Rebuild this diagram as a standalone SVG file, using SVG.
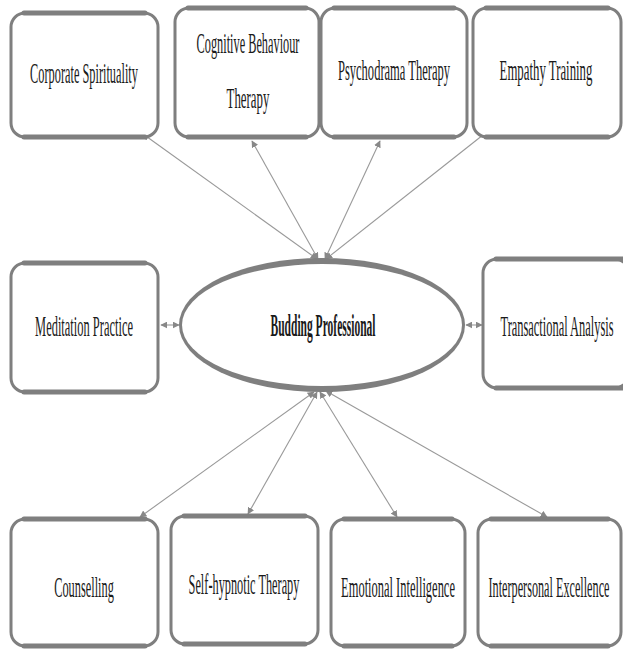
<svg xmlns="http://www.w3.org/2000/svg" width="623" height="649" viewBox="0 0 623 649">
  <style>
    .box { fill: #ffffff; stroke: #7f7f7f; stroke-width: 3; }
    .edge { stroke: #7f7f7f; stroke-width: 5; stroke-linecap: round; }
    .lbl { font-family: "Liberation Serif", "DejaVu Serif", serif; font-size: 30px; fill: #1a1a1a; text-anchor: middle; }
    .hub { font-weight: bold; font-size: 31px; }
    .conn { stroke: #999999; stroke-width: 1.1; fill: none; marker-start: url(#ah); marker-end: url(#ah); }
  </style>
  <defs>
    <marker id="ah" viewBox="0 0 10 10" refX="9" refY="5" markerWidth="7" markerHeight="7" markerUnits="userSpaceOnUse" orient="auto-start-reverse">
      <path d="M0,0 L10,5 L0,10 z" fill="#888888"/>
    </marker>
  </defs>
  <rect width="623" height="649" fill="#ffffff"/>

  <!-- connectors -->
  <g id="connectors">
    <line class="conn" x1="317" y1="259" x2="143" y2="134"/>
    <line class="conn" x1="318" y1="259" x2="252" y2="141"/>
    <line class="conn" x1="325" y1="259" x2="380" y2="141"/>
    <line class="conn" x1="326" y1="259" x2="488" y2="131"/>
    <line class="conn" x1="179" y1="325" x2="161" y2="325"/>
    <line class="conn" x1="466" y1="325" x2="482" y2="325"/>
    <line class="conn" x1="314" y1="392" x2="140" y2="517"/>
    <line class="conn" x1="317" y1="392" x2="248" y2="514"/>
    <line class="conn" x1="320" y1="392" x2="397" y2="517"/>
    <line class="conn" x1="326" y1="391" x2="547" y2="517"/>
  </g>

  <!-- top row -->
  <g id="corporate-spirituality">
    <rect class="box" x="11" y="13" width="147" height="124" rx="14"/>
    <line class="edge" x1="24" y1="13" x2="145" y2="13"/>
    <line class="edge" x1="24" y1="137" x2="145" y2="137"/>
    <text class="lbl" transform="translate(84,83) scale(0.42,1)" textLength="257" lengthAdjust="spacingAndGlyphs">Corporate Spirituality</text>
  </g>
  <g id="cognitive-behaviour-therapy">
    <rect class="box" x="175" y="8" width="144" height="129" rx="14"/>
    <line class="edge" x1="188" y1="8" x2="306" y2="8"/>
    <line class="edge" x1="188" y1="137" x2="306" y2="137"/>
    <text class="lbl" transform="translate(248,53) scale(0.42,1)" textLength="245" lengthAdjust="spacingAndGlyphs">Cognitive Behaviour</text>
    <text class="lbl" transform="translate(248,108) scale(0.42,1)" textLength="102" lengthAdjust="spacingAndGlyphs">Therapy</text>
  </g>
  <g id="psychodrama-therapy">
    <rect class="box" x="321" y="8" width="146" height="129" rx="14"/>
    <line class="edge" x1="334" y1="8" x2="454" y2="8"/>
    <line class="edge" x1="334" y1="137" x2="454" y2="137"/>
    <text class="lbl" transform="translate(394,80) scale(0.42,1)" textLength="267" lengthAdjust="spacingAndGlyphs">Psychodrama Therapy</text>
  </g>
  <g id="empathy-training">
    <rect class="box" x="473" y="8" width="148" height="129" rx="14"/>
    <line class="edge" x1="486" y1="8" x2="608" y2="8"/>
    <line class="edge" x1="486" y1="137" x2="608" y2="137"/>
    <text class="lbl" transform="translate(546,80) scale(0.42,1)" textLength="221" lengthAdjust="spacingAndGlyphs">Empathy Training</text>
  </g>

  <!-- middle row -->
  <g id="meditation-practice">
    <rect class="box" x="11" y="263" width="147" height="129" rx="14"/>
    <line class="edge" x1="24" y1="263" x2="145" y2="263"/>
    <line class="edge" x1="24" y1="392" x2="145" y2="392"/>
    <text class="lbl" transform="translate(84,336) scale(0.42,1)" textLength="233" lengthAdjust="spacingAndGlyphs">Meditation Practice</text>
  </g>
  <g id="budding-professional">
    <!-- ring drawn as two ellipses: heavier at top and bottom, thin at the ends -->
    <ellipse cx="322" cy="325" rx="143" ry="67" fill="#7f7f7f"/>
    <ellipse cx="322" cy="325" rx="140" ry="61" fill="#ffffff"/>
    <text class="lbl hub" transform="translate(323,336) scale(0.42,1)" textLength="250" lengthAdjust="spacingAndGlyphs">Budding Professional</text>
  </g>
  <g id="transactional-analysis">
    <rect class="box" x="483" y="259" width="146" height="129" rx="14"/>
    <line class="edge" x1="496" y1="259" x2="625" y2="259"/>
    <line class="edge" x1="496" y1="388" x2="625" y2="388"/>
    <text class="lbl" transform="translate(557,336) scale(0.42,1)" textLength="269" lengthAdjust="spacingAndGlyphs">Transactional Analysis</text>
  </g>

  <!-- bottom row -->
  <g id="counselling">
    <rect class="box" x="11" y="519" width="147" height="127" rx="14"/>
    <line class="edge" x1="24" y1="519" x2="145" y2="519"/>
    <line class="edge" x1="24" y1="646" x2="145" y2="646"/>
    <text class="lbl" transform="translate(84,597) scale(0.42,1)" textLength="142" lengthAdjust="spacingAndGlyphs">Counselling</text>
  </g>
  <g id="self-hypnotic-therapy">
    <rect class="box" x="171" y="516" width="147" height="128" rx="14"/>
    <line class="edge" x1="184" y1="516" x2="305" y2="516"/>
    <line class="edge" x1="184" y1="644" x2="305" y2="644"/>
    <text class="lbl" transform="translate(244,594) scale(0.42,1)" textLength="264" lengthAdjust="spacingAndGlyphs">Self-hypnotic Therapy</text>
  </g>
  <g id="emotional-intelligence">
    <rect class="box" x="331" y="519" width="134" height="127" rx="14"/>
    <line class="edge" x1="344" y1="519" x2="452" y2="519"/>
    <line class="edge" x1="344" y1="646" x2="452" y2="646"/>
    <text class="lbl" transform="translate(398,597) scale(0.42,1)" textLength="271" lengthAdjust="spacingAndGlyphs">Emotional Intelligence</text>
  </g>
  <g id="interpersonal-excellence">
    <rect class="box" x="478" y="519" width="143" height="127" rx="14"/>
    <line class="edge" x1="491" y1="519" x2="608" y2="519"/>
    <line class="edge" x1="491" y1="646" x2="608" y2="646"/>
    <text class="lbl" transform="translate(549,597) scale(0.42,1)" textLength="288" lengthAdjust="spacingAndGlyphs">Interpersonal Excellence</text>
  </g>
</svg>
